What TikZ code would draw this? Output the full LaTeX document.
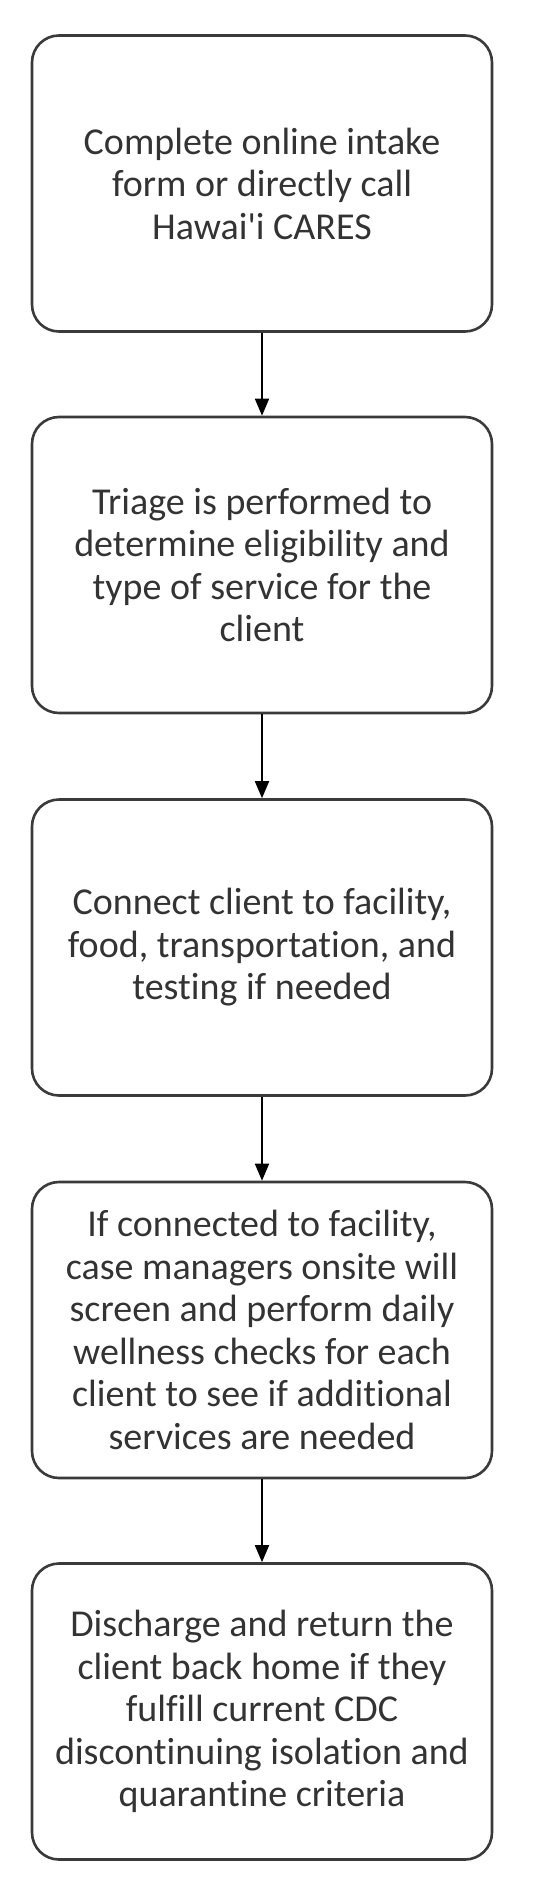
\documentclass[tikz,border=0pt]{standalone}
\usepackage{fontspec}
\newfontfamily\boxfont{Carlito}[RawFeature=-liga]
\usetikzlibrary{arrows.meta}
\definecolor{boxline}{HTML}{3A3A3A}
\definecolor{txt}{HTML}{333333}
\begin{document}
\begin{tikzpicture}[x=1pt,y=-1pt,
  stepbox/.style={draw=boxline, line width=2.6pt, rounded corners=27pt,
    minimum width=460pt, minimum height=296pt, align=center,
    text=txt, font=\boxfont\fontsize{38}{42.5}\selectfont, inner sep=0pt},
  flow/.style={draw=black, line width=1.8pt, -{Triangle[width=14pt,length=17pt]}}]
\useasboundingbox (0,0) rectangle (535,1895);
\node[stepbox] (b1) at (262,183.5) {Complete online intake\\form or directly call\\Hawai'i CARES};
\node[stepbox] (b2) at (262,565) {Triage is performed to\\determine eligibility and\\type of service for the\\client};
\node[stepbox] (b3) at (262,947.5) {Connect client to facility,\\food, transportation, and\\testing if needed};
\node[stepbox] (b4) at (262,1330) {If connected to facility,\\case managers onsite will\\screen and perform daily\\wellness checks for each\\client to see if additional\\services are needed};
\node[stepbox] (b5) at (262,1711.5) {Discharge and return the\\client back home if they\\fulfill current CDC\\discontinuing isolation and\\quarantine criteria};
\draw[flow] (b1) -- (b2);
\draw[flow] (b2) -- (b3);
\draw[flow] (b3) -- (b4);
\draw[flow] (b4) -- (b5);
\end{tikzpicture}
\end{document}
